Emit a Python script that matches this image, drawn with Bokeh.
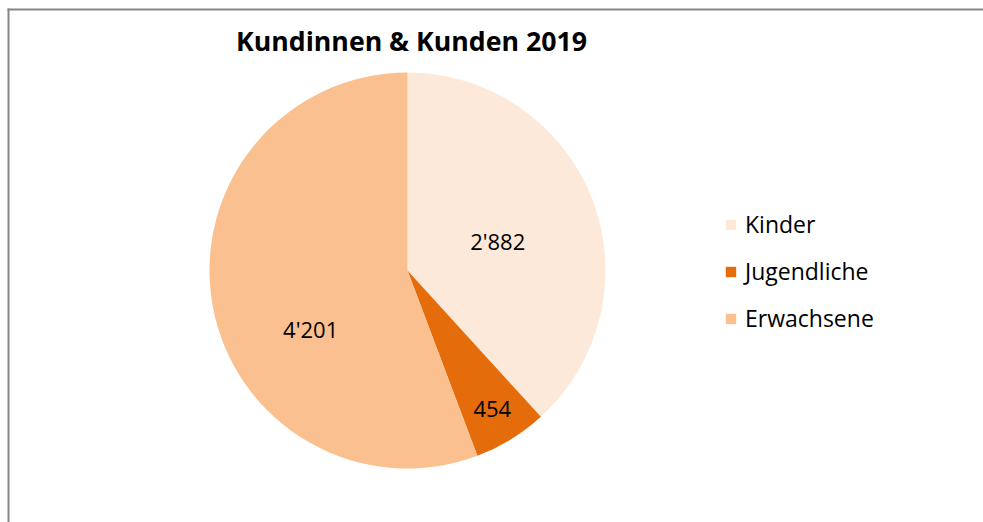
import math
from bokeh.plotting import figure
from bokeh.models import Range1d, Legend, LegendItem, ColumnDataSource, Label
from bokeh.core.properties import value
from bokeh.embed import file_html
from bokeh.resources import INLINE

# ---- data ----
categories = ["Kinder", "Jugendliche", "Erwachsene"]
counts = [2882, 454, 4201]
value_labels = ["2'882", "454", "4'201"]
colors = ["#FDE9D9", "#E46C0A", "#FAC090"]
title_text = "Kundinnen & Kunden 2019"

# ---- layout ----
W, H = 983, 522
CX, CY, R = 407, 252, 198
FONT = "Open Sans"
label_angle_shift = [-2.8, 0.0, 20.6]   # degrees, layout tweak like Excel best-fit
label_radius_frac = [0.48, 0.82, 0.57]

total = float(sum(counts))
starts, ends, lx, ly = [], [], [], []
cum = 0.0
for i, c in enumerate(counts):
    a0 = math.pi / 2 - 2 * math.pi * cum / total
    cum += c
    a1 = math.pi / 2 - 2 * math.pi * cum / total
    starts.append(a0)
    ends.append(a1)
    mid = (a0 + a1) / 2 + math.radians(label_angle_shift[i])
    lx.append(CX + R * label_radius_frac[i] * math.cos(mid))
    ly.append(CY + R * label_radius_frac[i] * math.sin(mid))

src = ColumnDataSource(dict(cat=categories, start=starts, end=ends, color=colors,
                            lx=lx, ly=ly, lab=value_labels))

p = figure(width=W, height=H, x_range=Range1d(0, W), y_range=Range1d(0, H),
           output_backend="svg", toolbar_location=None, min_border=0,
           x_axis_location=None, y_axis_location=None, tools="")
p.grid.visible = False
p.outline_line_color = None
p.background_fill_color = "white"
p.border_fill_color = "white"

# chart-area border (top and left edges visible in the crop)
p.segment(x0=[8, 7], y0=[0, 513], x1=[8, W], y1=[514, 513],
          line_color="#868686", line_width=2)

renderers = []
for i in range(len(categories)):
    r = p.wedge(x=CX, y=CY, radius=R, radius_units="screen",
                start_angle=starts[i], end_angle=ends[i], direction="clock",
                fill_color=colors[i], line_color=None)
    renderers.append(r)

p.text(x="lx", y="ly", text="lab", source=src, text_align="center",
       text_baseline="middle", text_font=value(FONT), text_font_size="22px",
       text_color="#000000")

p.add_layout(Label(x=411, y=482, text=title_text, text_align="center",
                   text_baseline="middle", text_font=FONT, text_font_size="26.7px",
                   text_font_style="bold", text_color="#000000"))

legend = Legend(items=[LegendItem(label=categories[i], renderers=[renderers[i]]) for i in range(3)],
                location=(724, 188), orientation="vertical",
                glyph_width=13, glyph_height=13, label_standoff=8,
                label_text_font=FONT, label_text_font_size="23px", label_text_color="#000000",
                spacing=15, padding=0, margin=0, border_line_color=None,
                background_fill_alpha=0)
p.add_layout(legend, "center")

open("out.html", "w").write(file_html(p, INLINE))
